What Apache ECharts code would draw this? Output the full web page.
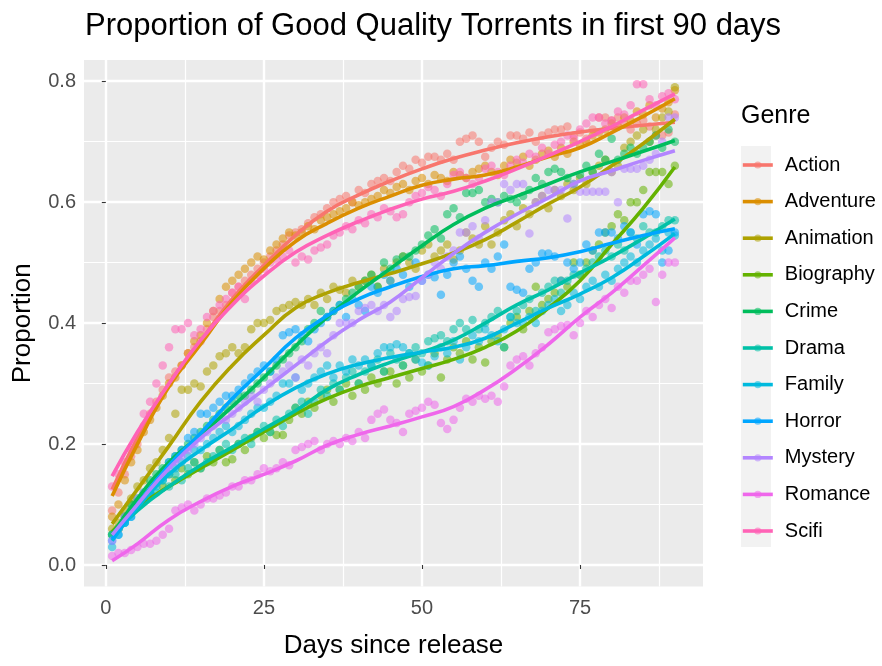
<!DOCTYPE html>
<html><head><meta charset="utf-8">
<script src="https://cdn.jsdelivr.net/npm/echarts@6/dist/echarts.min.js"></script>
<style>html,body{margin:0;padding:0;background:#fff}#c{width:882px;height:666px}</style>
</head><body><div id="c"></div>
<script>
const genres = ['Action','Adventure','Animation','Biography','Crime','Drama','Family','Horror','Mystery','Romance','Scifi'];
const colors = ['#F8766D','#DB8E00','#AEA200','#64B200','#00BD5C','#00C1A7','#00BADE','#00A6FF','#B385FF','#EF67EB','#FF63B6'];
const xTicks = [0,25,50,75];
const xMinor = [12.5,37.5,62.5,87.5];
const yTicks = [0,0.2,0.4,0.6,0.8];
const yMinor = [0.1,0.3,0.5,0.7];
const days = Array.from({length:90},(_,i)=>i+1);
const lineDays = [1,5,10,15,20,25,30,35,40,45,50,55,60,65,70,75,80,85,90];

// smoothed curves (read at lineDays)
const lineAction    = [0.125,0.21,0.30,0.37,0.44,0.495,0.545,0.585,0.612,0.635,0.655,0.672,0.686,0.698,0.708,0.716,0.722,0.727,0.732];
const lineAdventure = [0.114,0.20,0.295,0.365,0.435,0.49,0.535,0.565,0.59,0.61,0.628,0.638,0.645,0.658,0.675,0.69,0.715,0.742,0.771];
const lineAnimation = [0.068,0.125,0.197,0.27,0.33,0.38,0.425,0.45,0.467,0.482,0.498,0.516,0.538,0.567,0.597,0.625,0.66,0.697,0.737];
const lineBiography = [0.055,0.095,0.13,0.16,0.19,0.22,0.25,0.275,0.295,0.31,0.325,0.34,0.36,0.387,0.425,0.47,0.53,0.59,0.658];
const lineCrime     = [0.05,0.11,0.17,0.215,0.262,0.31,0.362,0.41,0.452,0.49,0.528,0.563,0.59,0.61,0.63,0.65,0.667,0.684,0.702];
const lineDrama     = [0.05,0.09,0.13,0.165,0.195,0.225,0.255,0.29,0.315,0.335,0.352,0.372,0.40,0.43,0.455,0.483,0.51,0.54,0.572];
const lineFamily    = [0.04,0.095,0.15,0.19,0.225,0.262,0.293,0.316,0.332,0.343,0.352,0.36,0.375,0.40,0.425,0.448,0.475,0.51,0.548];
const lineHorror    = [0.043,0.10,0.165,0.218,0.275,0.325,0.375,0.412,0.44,0.46,0.477,0.49,0.495,0.502,0.508,0.518,0.532,0.545,0.556];
const lineMystery   = [0.05,0.10,0.16,0.21,0.25,0.29,0.33,0.37,0.405,0.435,0.475,0.515,0.55,0.58,0.607,0.635,0.652,0.669,0.685];
const lineRomance   = [0.007,0.035,0.075,0.105,0.13,0.15,0.172,0.198,0.216,0.23,0.245,0.262,0.29,0.325,0.365,0.41,0.45,0.495,0.541];
const lineScifi     = [0.147,0.22,0.30,0.372,0.43,0.478,0.517,0.545,0.568,0.588,0.605,0.618,0.635,0.655,0.677,0.70,0.725,0.752,0.779];

// daily observations (days 1..90)
const ptsAction = [0.09,0.12,0.15,0.18,0.20,0.23,0.25,0.27,0.29,0.31, 0.32,0.33,0.35,0.36,0.37,0.39,0.41,0.42,0.43,0.45, 0.46,0.47,0.48,0.49,0.50,0.51,0.52,0.53,0.545,0.55, 0.555,0.565,0.575,0.58,0.59,0.60,0.605,0.61,0.60,0.62, 0.615,0.63,0.635,0.64,0.635,0.65,0.66,0.655,0.67,0.665, 0.675,0.675,0.67,0.68,0.67,0.70,0.705,0.71,0.70,0.675, 0.69,0.70,0.695,0.71,0.71,0.705,0.715,0.70,0.71,0.715, 0.72,0.72,0.725,0.71,0.715,0.705,0.72,0.74,0.74,0.735, 0.74,0.73,0.72,0.73,0.735,0.725,0.71,0.71,0.715,0.745];
const ptsAdventure = [0.08,0.10,0.14,0.17,0.19,0.22,0.24,0.26,0.28,0.30, 0.31,0.33,0.35,0.37,0.38,0.40,0.42,0.44,0.46,0.47, 0.48,0.49,0.50,0.51,0.505,0.52,0.53,0.54,0.55,0.545, 0.55,0.56,0.555,0.57,0.575,0.58,0.585,0.59,0.60,0.595, 0.60,0.605,0.61,0.62,0.615,0.625,0.63,0.62,0.635,0.64, 0.63,0.645,0.64,0.635,0.65,0.645,0.64,0.65,0.655,0.66, 0.65,0.645,0.66,0.67,0.665,0.675,0.66,0.67,0.68,0.685, 0.675,0.69,0.68,0.70,0.695,0.70,0.71,0.715,0.72,0.73, 0.725,0.74,0.735,0.75,0.745,0.76,0.74,0.755,0.765,0.785];
const ptsAnimation = [0.06,0.07,0.09,0.11,0.13,0.14,0.16,0.17,0.19,0.21, 0.25,0.29,0.29,0.30,0.295,0.32,0.33,0.345,0.35,0.36, 0.35,0.36,0.39,0.40,0.40,0.405,0.42,0.425,0.43,0.435, 0.43,0.44,0.43,0.45,0.44,0.46,0.455,0.45,0.47,0.46, 0.47,0.48,0.46,0.49,0.47,0.50,0.51,0.50,0.49,0.52, 0.53,0.51,0.52,0.53,0.505,0.52,0.55,0.54,0.53,0.56, 0.53,0.55,0.57,0.58,0.56,0.59,0.58,0.60,0.61,0.59, 0.62,0.61,0.63,0.62,0.64,0.63,0.65,0.66,0.67,0.65, 0.66,0.69,0.70,0.71,0.72,0.70,0.72,0.74,0.75,0.79];
const ptsBiography = [0.05,0.06,0.08,0.10,0.10,0.11,0.12,0.14,0.13,0.15, 0.14,0.16,0.15,0.17,0.16,0.18,0.17,0.19,0.17,0.175, 0.20,0.19,0.21,0.22,0.21,0.22,0.215,0.215,0.24,0.26, 0.25,0.27,0.26,0.28,0.29,0.27,0.29,0.30,0.28,0.30, 0.29,0.31,0.30,0.32,0.32,0.30,0.33,0.31,0.34,0.32, 0.33,0.35,0.31,0.34,0.36,0.35,0.37,0.34,0.36,0.335, 0.37,0.38,0.36,0.40,0.41,0.39,0.42,0.46,0.43,0.44, 0.45,0.47,0.46,0.50,0.48,0.50,0.52,0.53,0.55,0.56, 0.58,0.57,0.60,0.60,0.62,0.65,0.65,0.65,0.63,0.66];
const ptsCrime = [0.05,0.06,0.08,0.10,0.11,0.12,0.14,0.15,0.16,0.17, 0.18,0.19,0.20,0.21,0.22,0.23,0.24,0.25,0.26,0.27, 0.28,0.28,0.29,0.30,0.31,0.32,0.33,0.34,0.35,0.36, 0.37,0.39,0.40,0.42,0.41,0.42,0.43,0.44,0.45,0.46, 0.47,0.48,0.46,0.50,0.49,0.505,0.51,0.51,0.52,0.53, 0.545,0.555,0.54,0.58,0.59,0.575,0.615,0.615,0.62,0.60, 0.605,0.60,0.61,0.605,0.60,0.61,0.62,0.64,0.63,0.65, 0.655,0.65,0.64,0.63,0.645,0.66,0.65,0.68,0.67,0.705, 0.67,0.68,0.69,0.68,0.69,0.70,0.71,0.69,0.72,0.70];
const ptsDrama = [0.05,0.06,0.07,0.09,0.10,0.11,0.12,0.12,0.14,0.13, 0.15,0.14,0.16,0.17,0.16,0.17,0.18,0.19,0.20,0.19, 0.20,0.21,0.20,0.22,0.23,0.22,0.24,0.23,0.25,0.26, 0.27,0.25,0.27,0.29,0.28,0.30,0.29,0.31,0.32,0.30, 0.32,0.33,0.34,0.32,0.35,0.34,0.33,0.35,0.36,0.35, 0.37,0.375,0.38,0.37,0.39,0.40,0.39,0.405,0.39,0.40, 0.41,0.42,0.36,0.41,0.42,0.43,0.44,0.42,0.45,0.46, 0.47,0.45,0.47,0.48,0.48,0.49,0.50,0.51,0.52,0.51, 0.53,0.52,0.55,0.54,0.56,0.55,0.55,0.56,0.57,0.57];
const ptsFamily = [0.03,0.05,0.07,0.08,0.10,0.11,0.12,0.13,0.14,0.15, 0.16,0.17,0.18,0.19,0.19,0.20,0.21,0.22,0.23,0.22, 0.23,0.24,0.25,0.26,0.26,0.27,0.28,0.30,0.30,0.31, 0.29,0.30,0.31,0.32,0.33,0.31,0.33,0.32,0.34,0.33, 0.34,0.33,0.35,0.36,0.36,0.365,0.36,0.35,0.34,0.335, 0.33,0.345,0.36,0.35,0.37,0.34,0.36,0.38,0.37,0.39, 0.38,0.37,0.39,0.41,0.40,0.40,0.41,0.40,0.42,0.43, 0.44,0.42,0.43,0.45,0.44,0.46,0.47,0.46,0.48,0.47, 0.49,0.50,0.51,0.50,0.52,0.53,0.54,0.52,0.55,0.545];
const ptsHorror = [0.04,0.05,0.07,0.08,0.10,0.11,0.12,0.14,0.15,0.17, 0.18,0.19,0.21,0.22,0.25,0.25,0.26,0.27,0.28,0.28, 0.29,0.30,0.31,0.32,0.33,0.32,0.34,0.38,0.385,0.39, 0.38,0.37,0.39,0.40,0.41,0.42,0.43,0.41,0.44,0.43, 0.42,0.46,0.45,0.48,0.47,0.49,0.48,0.46,0.50,0.47, 0.48,0.476,0.447,0.48,0.50,0.51,0.49,0.47,0.46,0.50, 0.49,0.51,0.53,0.46,0.455,0.45,0.49,0.50,0.515,0.515, 0.51,0.47,0.50,0.49,0.50,0.53,0.52,0.55,0.55,0.55, 0.54,0.56,0.55,0.53,0.58,0.585,0.58,0.50,0.52,0.55];
const ptsMystery = [0.04,0.06,0.08,0.09,0.11,0.12,0.13,0.14,0.15,0.16, 0.17,0.18,0.19,0.20,0.21,0.22,0.23,0.24,0.24,0.25, 0.26,0.27,0.28,0.27,0.29,0.30,0.31,0.32,0.33,0.31, 0.34,0.33,0.35,0.36,0.35,0.38,0.40,0.40,0.40,0.42, 0.425,0.43,0.42,0.43,0.41,0.42,0.44,0.443,0.445,0.47, 0.48,0.50,0.49,0.51,0.52,0.55,0.55,0.56,0.54,0.57, 0.60,0.60,0.63,0.62,0.63,0.63,0.548,0.60,0.61,0.62, 0.62,0.62,0.573,0.63,0.617,0.617,0.617,0.617,0.617,0.65, 0.60,0.655,0.655,0.655,0.66,0.67,0.68,0.70,0.74,0.74];
const ptsRomance = [0.015,0.02,0.02,0.025,0.03,0.035,0.035,0.04,0.05,0.06, 0.09,0.095,0.10,0.09,0.10,0.11,0.11,0.115,0.12,0.13, 0.13,0.14,0.14,0.15,0.16,0.155,0.16,0.17,0.165,0.19, 0.195,0.20,0.205,0.19,0.20,0.205,0.20,0.21,0.205,0.22, 0.21,0.24,0.25,0.257,0.24,0.235,0.22,0.25,0.255,0.26, 0.27,0.265,0.235,0.225,0.24,0.26,0.275,0.27,0.28,0.275, 0.28,0.27,0.295,0.33,0.34,0.345,0.33,0.35,0.36,0.385, 0.39,0.395,0.397,0.38,0.40,0.42,0.41,0.43,0.44,0.425, 0.46,0.45,0.47,0.47,0.48,0.49,0.435,0.48,0.50,0.50];
const ptsScifi = [0.13,0.15,0.17,0.19,0.21,0.25,0.27,0.30,0.33,0.36, 0.39,0.39,0.40,0.38,0.39,0.41,0.42,0.43,0.44,0.45, 0.46,0.44,0.47,0.48,0.49,0.50,0.505,0.51,0.52,0.50, 0.51,0.505,0.52,0.525,0.53,0.545,0.55,0.56,0.555,0.57, 0.565,0.58,0.575,0.59,0.585,0.575,0.58,0.60,0.61,0.615, 0.625,0.62,0.61,0.63,0.645,0.65,0.64,0.63,0.64,0.655, 0.66,0.65,0.645,0.66,0.67,0.665,0.68,0.675,0.69,0.68, 0.695,0.70,0.71,0.705,0.72,0.73,0.74,0.74,0.73,0.735, 0.75,0.745,0.76,0.795,0.795,0.77,0.76,0.775,0.78,0.77];

const lines = [lineAction,lineAdventure,lineAnimation,lineBiography,lineCrime,lineDrama,lineFamily,lineHorror,lineMystery,lineRomance,lineScifi];
const pts = [ptsAction,ptsAdventure,ptsAnimation,ptsBiography,ptsCrime,ptsDrama,ptsFamily,ptsHorror,ptsMystery,ptsRomance,ptsScifi];

const FONT = "'Liberation Sans',Arial,sans-serif";
const X_MIN = -3.45, X_MAX = 94.45, Y_MIN = -0.0355, Y_MAX = 0.835;

const series = [];
genres.forEach((g,i)=>{
  series.push({name:g, type:'line', data: lineDays.map((d,j)=>[d, lines[i][j]]),
    smooth:0.5, showSymbol:false, symbol:'circle', silent:true, z:11,
    lineStyle:{width:3.6, color:colors[i]}, itemStyle:{color:colors[i], opacity:0.55}});
});
genres.forEach((g,i)=>{
  series.push({name:g, type:'scatter', data: days.map((d,j)=>[d, pts[i][j]]),
    symbolSize:8.5, silent:true, z:10, itemStyle:{color:colors[i], opacity:0.55}});
});

const chart = echarts.init(document.getElementById('c'), null, {renderer:'canvas'});
chart.setOption({
  animation:false,
  backgroundColor:'#fff',
  textStyle:{fontFamily:FONT},
  title:[
    {text:'Proportion of Good Quality Torrents in first 90 days', left:85, top:11, padding:0,
     textStyle:{fontSize:31, fontWeight:'normal', color:'#000', fontFamily:FONT}},
    {text:'Genre', left:741, top:104, padding:0, textStyle:{fontSize:25, fontWeight:'normal', color:'#000', fontFamily:FONT}}
  ],
  graphic:[{type:'rect', left:741, top:146, z:0, shape:{width:30, height:401}, style:{fill:'#F2F2F2'}}],
  legend:{orient:'vertical', left:741, top:154, padding:0, itemWidth:30, itemHeight:9, itemGap:14.6,
    selectedMode:false, data:genres, lineStyle:{width:3.6},
    textStyle:{fontSize:20, lineHeight:22, color:'#000', fontFamily:FONT, padding:[0,0,0,7]}},
  grid:{left:84, right:179, top:60, bottom:79.5, show:true, backgroundColor:'#EBEBEB', borderWidth:0, containLabel:false},
  xAxis:[
    {type:'value', min:X_MIN, max:X_MAX, position:'bottom',
     axisLine:{show:false},
     axisTick:{show:true, length:4, customValues:xTicks, lineStyle:{color:'#333', width:1.1}},
     axisLabel:{customValues:xTicks, fontSize:20, color:'#4D4D4D', margin:12, fontFamily:FONT},
     splitLine:{show:true, lineStyle:{color:'#fff', width:2.4}},
     name:'Days since release', nameLocation:'middle', nameGap:46,
     nameTextStyle:{fontSize:26, color:'#000', fontFamily:FONT}},
    {type:'value', min:X_MIN, max:X_MAX, position:'top',
     axisLine:{show:false}, axisTick:{show:false, customValues:xMinor}, axisLabel:{show:false, customValues:xMinor},
     splitLine:{show:true, lineStyle:{color:'#fff', width:1.2}}}
  ],
  yAxis:[
    {type:'value', min:Y_MIN, max:Y_MAX, position:'left',
     axisLine:{show:false},
     axisTick:{show:true, length:4, customValues:yTicks, lineStyle:{color:'#333', width:1.1}},
     axisLabel:{customValues:yTicks, fontSize:20, color:'#4D4D4D', margin:8, fontFamily:FONT, formatter:v=>v.toFixed(1)},
     splitLine:{show:true, lineStyle:{color:'#fff', width:2.4}},
     name:'Proportion', nameLocation:'middle', nameGap:48, nameRotate:90,
     nameTextStyle:{fontSize:26, color:'#000', fontFamily:FONT}},
    {type:'value', min:Y_MIN, max:Y_MAX, position:'right',
     axisLine:{show:false}, axisTick:{show:false, customValues:yMinor}, axisLabel:{show:false, customValues:yMinor},
     splitLine:{show:true, lineStyle:{color:'#fff', width:1.2}}}
  ],
  series:series
});
</script></body></html>
